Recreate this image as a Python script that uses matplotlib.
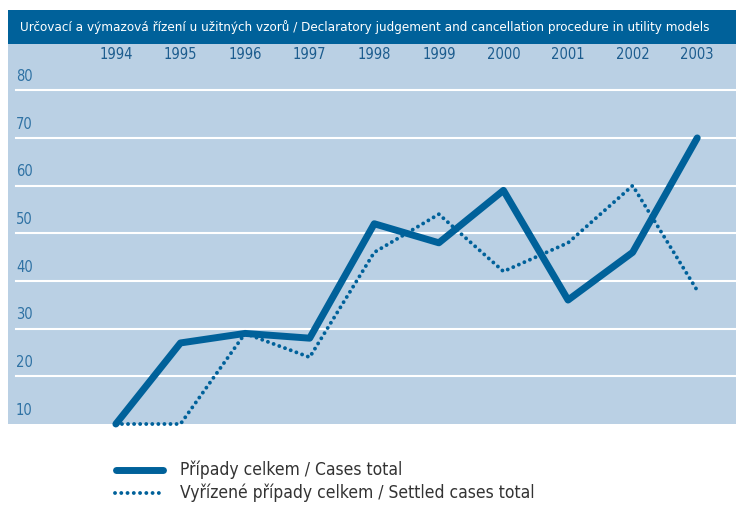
import matplotlib.pyplot as plt
from matplotlib.patches import Rectangle
from matplotlib.lines import Line2D
import matplotlib.transforms as mtransforms

# data
years = [1994, 1995, 1996, 1997, 1998, 1999, 2000, 2001, 2002, 2003]
cases_total = [10, 27, 29, 28, 52, 48, 59, 36, 46, 70]
settled_total = [10, 10, 29, 24, 46, 54, 42, 48, 60, 38]
y_ticks = [10, 20, 30, 40, 50, 60, 70, 80]

title = "Určovací a výmazová řízení u užitných vzorů / Declaratory judgement and cancellation procedure in utility models"
label_cases = "Případy celkem / Cases total"
label_settled = "Vyřízené případy celkem / Settled cases total"

dark = "#00619a"
panel = "#bad0e4"
cond = dict(family="DejaVu Sans", stretch="condensed")
dots = (0, (0.01, 1.55))

W, H = 736, 509
fig = plt.figure(figsize=(W / 100, H / 100), dpi=100)

# title banner
fig.patches.append(Rectangle((8 / W, 1 - 44 / H), 1, 34 / H, transform=fig.transFigure,
                             facecolor="#00619a", edgecolor="none"))
fig.text(20 / W, 1 - 27 / H, title, color="white", fontsize=9.6, va="center", ha="left", **cond)

# plotting panel
ax = fig.add_axes([8 / W, 1 - 424 / H, 728 / W, 380 / H])
ax.set_facecolor(panel)
for s in ax.spines.values():
    s.set_visible(False)

ax.set_xlim(1992.33, 2003.6)
ax.set_ylim(10, 89.7)

for v in y_ticks[1:]:
    ax.axhline(v, xmin=8 / 728, xmax=1, color="white", lw=1.5, zorder=1)

trans = mtransforms.blended_transform_factory(ax.transAxes, ax.transData)
for v in y_ticks:
    ax.text(8 / 728, v + 1.3, str(v), transform=trans, color="#2f72a4",
            fontsize=10.5, va="bottom", ha="left", **cond)

ax.set_xticks(years)
ax.set_xticklabels([str(y) for y in years])
ax.xaxis.tick_top()
ax.tick_params(axis="x", length=0, pad=-13, labelsize=10.5, labelcolor="#1c5c8e")
for t in ax.get_xticklabels():
    t.set_family("DejaVu Sans")
    t.set_stretch("condensed")
ax.set_yticks([])

ax.plot(years, cases_total, color=dark, lw=5, solid_capstyle="round",
        solid_joinstyle="round", zorder=3, clip_on=False)
ax.plot(years, settled_total, color=dark, lw=2.8, linestyle=dots,
        dash_capstyle="round", zorder=3, clip_on=False)

# legend, drawn by hand to sit where the original does
fig.add_artist(Line2D([116 / W, 163 / W], [1 - 470 / H] * 2, color=dark, lw=5,
                      solid_capstyle="round"))
fig.add_artist(Line2D([115 / W, 164 / W], [1 - 493 / H] * 2, color=dark, lw=2.8,
                      linestyle=(0, (0.01, 1.6)), dash_capstyle="round"))
fig.text(180 / W, 1 - 470 / H, label_cases, color="#333333", fontsize=12.5,
         va="center", ha="left", **cond)
fig.text(180 / W, 1 - 493 / H, label_settled, color="#333333", fontsize=12.5,
         va="center", ha="left", **cond)

fig.savefig("out.png", dpi=100)
